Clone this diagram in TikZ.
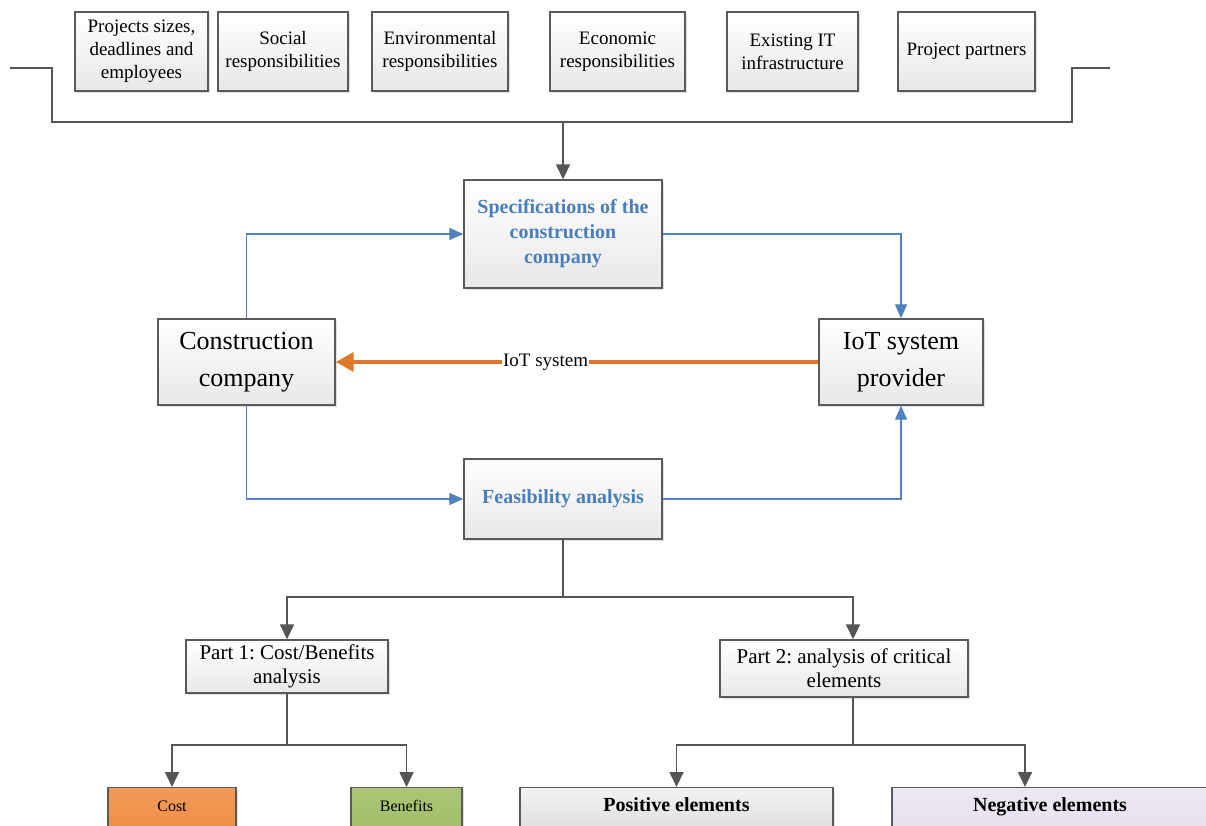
\documentclass[tikz,border=0pt]{standalone}
\usepackage{fontspec}
\setmainfont{Liberation Serif}
\frenchspacing
\usetikzlibrary{arrows.meta,shadows}
\definecolor{boxline}{HTML}{5A5A5A}
\definecolor{darkline}{HTML}{555555}
\definecolor{blueline}{HTML}{4F81BD}
\definecolor{bluetext}{HTML}{4A7EBB}
\definecolor{orangeline}{HTML}{E0782C}
\definecolor{costfill}{HTML}{EE8A3E}
\definecolor{benfill}{HTML}{9DBB61}
\definecolor{negfill}{HTML}{E4DEEC}
\definecolor{posfill}{HTML}{EBEBEB}
\tikzset{
  box/.style={draw=boxline, line width=1.4pt, top color=white, bottom color=gray!18,
    drop shadow={opacity=0.25, shadow xshift=2pt, shadow yshift=-2pt},
    align=center, inner sep=2pt},
  topbox/.style={box, font=\fontsize{19}{23}\selectfont, minimum height=79pt},
  specbox/.style={box, text=bluetext, font=\bfseries\fontsize{20}{25}\selectfont},
  bigbox/.style={box, font=\fontsize{26}{37}\selectfont},
  partbox/.style={box, font=\fontsize{21}{24}\selectfont},
  leafbox/.style={box, anchor=north, inner sep=0pt, text height=24pt, text depth=36pt},
  dline/.style={draw=darkline, line width=1.6pt},
  darr/.style={dline, -{Triangle[length=15pt,width=14pt]}},
  barr/.style={draw=blueline, line width=1.3pt, -{Triangle[length=14pt,width=12pt]}},
  oarr/.style={draw=orangeline, line width=4pt, -{Triangle[length=18pt,width=19pt]}},
}
\begin{document}
\begin{tikzpicture}[x=1pt,y=-1pt]
\useasboundingbox (0,0) rectangle (1206,825);
\clip (0,0) rectangle (1206,825);

% top boxes
\node[topbox, minimum width=133pt] (t1) at (141.5,51.5) {Projects sizes,\\deadlines and\\employees};
\node[topbox, minimum width=130pt] (t2) at (283,51.5) {Social\\responsibilities};
\node[topbox, minimum width=136pt] (t3) at (440,51.5) {Environmental\\responsibilities};
\node[topbox, minimum width=135pt] (t4) at (617.5,51.5) {Economic\\responsibilities};
\node[topbox, minimum width=131pt] (t5) at (792.5,51.5) {Existing IT\\infrastructure};
\node[topbox, minimum width=137pt] (t6) at (966.5,51.5) {Project partners};

% bus
\coordinate (ls) at (10,68);
\coordinate (bl) at (52,122);
\coordinate (br) at (1072,122);
\coordinate (rs) at (1110,68);
\draw[dline] (ls) -| (bl) -- (br) |- (rs);

% middle
\node[specbox, minimum width=198pt, minimum height=108pt] (spec) at (563,234) {Specifications of the\\construction\\company};
\node[bigbox, minimum width=177pt, minimum height=86pt] (cc) at (246.5,362) {Construction\\company};
\node[bigbox, minimum width=164pt, minimum height=86pt] (iot) at (901,362) {IoT system\\provider};
\node[specbox, minimum width=198pt, minimum height=80pt] (feas) at (563,499) {Feasibility analysis};

\draw[darr] (spec.north |- bl) -- (spec.north);
\draw[barr] (cc.north) |- (spec.west);
\draw[barr] (spec.east) -| (iot.north);
\draw[barr] (cc.south) |- (feas.west);
\draw[barr] (feas.east) -| (iot.south);
\draw[oarr] (iot.west) -- (cc.east)
  node[pos=0.565, fill=white, inner sep=1pt, font=\fontsize{19}{22}\selectfont] (lbl) {IoT system};

% parts
\node[partbox, minimum width=202pt, minimum height=53pt] (p1) at (287,666.5) {Part 1: Cost/Benefits\\analysis};
\node[partbox, minimum width=248pt, minimum height=57pt] (p2) at (844,668.5) {Part 2: analysis of critical\\elements};

\coordinate (j1) at (563,597);
\coordinate (j1l) at (287,597);
\coordinate (j1r) at (853,597);
\draw[dline] (feas.south) -- (j1);
\draw[darr] (j1) -- (j1l) -- (p1.north);
\draw[darr] (j1) -- (j1r) -- (j1r |- p2.north);

% leaves
\node[leafbox, minimum width=128pt, top color=costfill!85!white, bottom color=costfill, font=\fontsize{16}{18}\selectfont] (cost) at (172,787) {Cost};
\node[leafbox, minimum width=111pt, top color=benfill!85!white, bottom color=benfill, font=\fontsize{16}{18}\selectfont] (ben) at (406.5,787) {Benefits};
\node[leafbox, minimum width=313pt, top color=posfill!60!white, bottom color=posfill!80!gray, font=\bfseries\fontsize{20}{22}\selectfont] (pos) at (676.5,787) {Positive elements};
\node[leafbox, minimum width=316pt, top color=negfill!70!white, bottom color=negfill, font=\bfseries\fontsize{20}{22}\selectfont] (neg) at (1050,787) {Negative elements};

\coordinate (j2) at (287,745);
\coordinate (j2l) at (172,745);
\coordinate (j2r) at (406.5,745);
\draw[dline] (p1.south) -- (j2);
\draw[darr] (j2) -- (j2l) -- (cost.north);
\draw[darr] (j2) -- (j2r) -- (ben.north);

\coordinate (j3) at (853,745);
\coordinate (j3l) at (676.5,745);
\coordinate (j3r) at (1025,745);
\draw[dline] (j3 |- p2.south) -- (j3);
\draw[darr] (j3) -- (j3l) -- (pos.north);
\draw[darr] (j3) -- (j3r) -- (j3r |- neg.north);
\end{tikzpicture}
\end{document}
